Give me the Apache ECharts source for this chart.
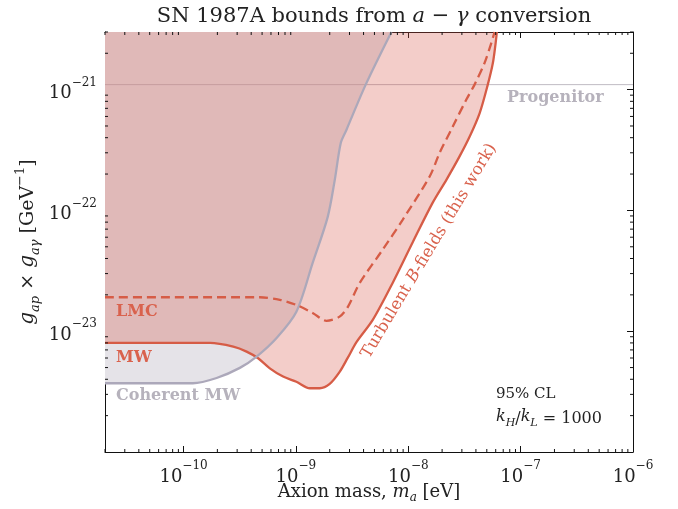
<!DOCTYPE html>
<html><head><meta charset="utf-8">
<script src="https://cdn.jsdelivr.net/npm/echarts@6/dist/echarts.min.js"></script>
<style>html,body{margin:0;padding:0;background:#fff}#c{width:678px;height:509px}</style>
</head><body><div id="c"></div>
<script>
// ---- data ----
const xTicks = [1e-10, 1e-9, 1e-8, 1e-7, 1e-6];
const yTicks = [1e-24, 1e-23, 1e-22, 1e-21];

// Coherent MW bound (grey)
const cohMass = [2e-11, 1.21e-10, 1.97e-10, 3.17e-10, 4.47e-10, 6.73e-10, 1.01e-9, 1.41e-9, 1.92e-9, 2.22e-9, 2.51e-9, 2.82e-9, 4.18e-9, 7.08e-9];
const cohG    = [3.71e-24, 3.71e-24, 4.10e-24, 4.97e-24, 6.17e-24, 8.79e-24, 1.45e-23, 3.68e-23, 8.85e-23, 1.80e-22, 3.63e-22, 4.66e-22, 1.10e-21, 3.0e-21];

// MW turbulent B-fields (solid red)
const mwMass = [2e-11, 1.72e-10, 2.77e-10, 3.64e-10, 4.61e-10, 5.86e-10, 7.69e-10, 1.01e-9, 1.33e-9, 1.63e-9, 2.00e-9, 2.45e-9, 2.89e-9, 3.47e-9, 4.83e-9, 7.26e-9, 1.09e-8, 1.65e-8, 2.19e-8, 2.86e-8, 3.52e-8, 4.32e-8, 5.10e-8, 5.66e-8, 5.99e-8, 6.14e-8];
const mwG    = [8.0e-24, 8.0e-24, 7.45e-24, 6.78e-24, 5.97e-24, 4.93e-24, 4.21e-24, 3.82e-24, 3.37e-24, 3.37e-24, 3.66e-24, 4.60e-24, 6.01e-24, 8.15e-24, 1.24e-23, 2.51e-23, 5.40e-23, 1.16e-22, 1.80e-22, 2.80e-22, 4.09e-22, 6.40e-22, 1.10e-21, 1.66e-21, 2.43e-21, 3.0e-21];

// LMC turbulent B-fields (dashed red)
const lmcMass = [2e-11, 4.77e-10, 7.19e-10, 1.01e-9, 1.42e-9, 1.87e-9, 2.45e-9, 2.91e-9, 3.70e-9, 5.91e-9, 8.91e-9, 1.55e-8, 1.90e-8, 2.49e-8, 3.28e-8, 3.89e-8, 4.77e-8, 5.48e-8, 5.86e-8];
const lmcG    = [1.91e-23, 1.91e-23, 1.82e-23, 1.65e-23, 1.41e-23, 1.22e-23, 1.32e-23, 1.60e-23, 2.51e-23, 4.72e-23, 8.36e-23, 1.91e-22, 2.99e-22, 4.95e-22, 8.24e-22, 1.10e-21, 1.66e-21, 2.43e-21, 3.0e-21];

// Progenitor bound
const progMass = [2e-11, 1e-6];
const progG    = [1.1e-21, 1.1e-21];

const xMin = 2e-11, xMax = 1e-6, yMin = 1e-24, yMax = 3e-21;

// ---- styling ----
const SERIF = "'DejaVu Serif', serif";
const RED = '#d65c46';
const REDTXT = '#d9624d';
const GREY = '#aca8ba';
const GREYTXT = '#b6b2bc';

const zip = (a, b) => a.map((v, i) => [v, b[i]]);
const isTick = (arr, v) => arr.some(t => Math.abs(Math.log10(t) - Math.log10(v)) < 1e-6);
const expLabel = arr => v => isTick(arr, v) ? '{b|10}{s|−' + Math.round(-Math.log10(v)) + '}' : '';
const tickRich = {
  b: {fontSize: 18, fontFamily: SERIF, color: '#222', lineHeight: 26, verticalAlign: 'bottom'},
  s: {fontSize: 12, fontFamily: SERIF, color: '#222', lineHeight: 12, verticalAlign: 'top'}
};

// minor tick positions (decoration of the log axes)
const xMinor = [], yMinor = [];
for (let e = -11; e <= -7; e++) for (let k = 2; k <= 9; k++) { const v = k * Math.pow(10, e); if (v >= xMin && v <= xMax) xMinor.push([v, yMin]); }
for (let e = -24; e <= -21; e++) for (let k = 2; k <= 9; k++) { const v = k * Math.pow(10, e); if (v >= yMin && v <= yMax) yMinor.push([xMin, v]); }

function axisBase() {
  return {
    type: 'log', logBase: 10, gridIndex: 0, nameMoveOverlap: false,
    axisLine: {show: true, onZero: false, lineStyle: {color: '#111', width: 1}},
    axisTick: {show: true, inside: true, length: 6, lineStyle: {color: '#111', width: 1}},
    splitLine: {show: false},
    minorTick: {show: false}
  };
}

const chart = echarts.init(document.getElementById('c'), null, {renderer: 'canvas'});
chart.setOption({
  animation: false,
  backgroundColor: '#fff',
  title: {
    text: 'SN 1987A bounds from {i|a} − {i|γ} conversion',
    left: 369, top: 1, textAlign: 'center',
    textStyle: {fontFamily: SERIF, fontSize: 21, fontWeight: 'normal', color: '#222',
      rich: {i: {fontFamily: SERIF, fontSize: 21, fontStyle: 'italic', color: '#222'}}}
  },
  grid: {left: 105, right: 45, top: 32, bottom: 57, containLabel: false, outerBoundsMode: 'none'},
  xAxis: [
    Object.assign(axisBase(), {
      min: xMin, max: xMax, position: 'bottom',
      axisLabel: {show: true, interval: 0, margin: 8, formatter: expLabel(xTicks), rich: tickRich},
      name: 'Axion mass, {i|m}{sub|a} [eV]', nameLocation: 'middle', nameGap: 28,
      nameTextStyle: {fontFamily: SERIF, fontSize: 18, color: '#222', lineHeight: 24, verticalAlign: 'top',
        rich: {i: {fontFamily: SERIF, fontSize: 18, fontStyle: 'italic', color: '#222', lineHeight: 24, verticalAlign: 'middle'},
               sub: {fontFamily: SERIF, fontSize: 12, fontStyle: 'italic', color: '#222', lineHeight: 12, verticalAlign: 'bottom'}}}
    }),
    Object.assign(axisBase(), {min: xMin, max: xMax, position: 'top', axisLabel: {show: false}})
  ],
  yAxis: [
    Object.assign(axisBase(), {
      min: yMin, max: yMax, position: 'left',
      axisLabel: {show: true, interval: 0, margin: 8, formatter: expLabel(yTicks), rich: tickRich},
      name: '{i|g}{sub|ap} × {i|g}{sub|aγ} [GeV{sup|−1}]', nameLocation: 'middle', nameGap: 63, nameRotate: 90,
      nameTextStyle: {fontFamily: SERIF, fontSize: 19, color: '#222', lineHeight: 28,
        rich: {i: {fontFamily: SERIF, fontSize: 20, fontStyle: 'italic', color: '#222', lineHeight: 28, verticalAlign: 'middle'},
               sub: {fontFamily: SERIF, fontSize: 13, fontStyle: 'italic', color: '#222', lineHeight: 14, verticalAlign: 'bottom'},
               sup: {fontFamily: SERIF, fontSize: 13, color: '#222', lineHeight: 12, verticalAlign: 'top'}}}
    }),
    Object.assign(axisBase(), {min: yMin, max: yMax, position: 'right', axisLabel: {show: false}})
  ],
  series: [
    {type: 'line', name: 'Coherent MW area', data: zip(cohMass, cohG), showSymbol: false, smooth: 0.3,
     lineStyle: {width: 0, opacity: 0}, areaStyle: {origin: yMax, color: '#e5e3e8', opacity: 1}, z: 1, silent: true},
    {type: 'line', name: 'MW', data: zip(mwMass, mwG), showSymbol: false, smooth: 0.3,
     lineStyle: {width: 2.3, color: RED}, areaStyle: {origin: yMax, color: 'rgba(212,84,68,0.29)', opacity: 1}, z: 3, silent: true},
    {type: 'line', name: 'Coherent MW', data: zip(cohMass, cohG), showSymbol: false, smooth: 0.3,
     lineStyle: {width: 2.3, color: GREY}, z: 4, silent: true},
    {type: 'line', name: 'LMC', data: zip(lmcMass, lmcG), showSymbol: false, smooth: 0.3,
     lineStyle: {width: 2.3, color: RED, type: [9, 5]}, z: 5, silent: true},
    {type: 'line', name: 'Progenitor', data: zip(progMass, progG), showSymbol: false,
     lineStyle: {width: 1, color: '#bfbbc3'}, z: 2, silent: true},
    {type: 'custom', name: 'xminor', data: xMinor, silent: true, z: 6,
     renderItem: (params, api) => {
       const p = api.coord([api.value(0), api.value(1)]);
       const cs = params.coordSys;
       const b = cs.y + cs.height, t = cs.y;
       return {type: 'group', children: [
         {type: 'line', shape: {x1: p[0], y1: b, x2: p[0], y2: b - 3}, style: {stroke: '#111', lineWidth: 1}},
         {type: 'line', shape: {x1: p[0], y1: t, x2: p[0], y2: t + 3}, style: {stroke: '#111', lineWidth: 1}}
       ]};
     }},
    {type: 'custom', name: 'yminor', data: yMinor, silent: true, z: 6,
     renderItem: (params, api) => {
       const p = api.coord([api.value(0), api.value(1)]);
       const cs = params.coordSys;
       const l = cs.x, r = cs.x + cs.width;
       return {type: 'group', children: [
         {type: 'line', shape: {x1: l, y1: p[1], x2: l + 3, y2: p[1]}, style: {stroke: '#111', lineWidth: 1}},
         {type: 'line', shape: {x1: r, y1: p[1], x2: r - 3, y2: p[1]}, style: {stroke: '#111', lineWidth: 1}}
       ]};
     }}
  ],
  graphic: [
    {type: 'text', x: 507, y: 98, z: 10, style: {text: 'Progenitor', font: "bold 16px 'DejaVu Serif'", fill: GREYTXT, verticalAlign: 'middle'}},
    {type: 'text', x: 116, y: 312, z: 10, style: {text: 'LMC', font: "bold 16px 'DejaVu Serif'", fill: REDTXT, verticalAlign: 'middle'}},
    {type: 'text', x: 116, y: 358, z: 10, style: {text: 'MW', font: "bold 16px 'DejaVu Serif'", fill: REDTXT, verticalAlign: 'middle'}},
    {type: 'text', x: 116, y: 396, z: 10, style: {text: 'Coherent MW', font: "bold 16px 'DejaVu Serif'", fill: GREYTXT, verticalAlign: 'middle'}},
    {type: 'text', x: 429, y: 251, rotation: 59 * Math.PI / 180, z: 10,
     style: {text: 'Turbulent {b|B}-fields (this work)', font: "16.5px 'DejaVu Serif'", fill: REDTXT, align: 'center', verticalAlign: 'middle',
       rich: {b: {font: "italic 16.5px 'DejaVu Serif'", fill: REDTXT}}}},
    {type: 'text', x: 496, y: 394, z: 10, style: {text: '95% CL', font: "15px 'DejaVu Serif'", fill: '#222', verticalAlign: 'middle'}},
    {type: 'text', x: 496, y: 419, z: 10,
     style: {text: '{i|k}{s|H}/{i|k}{s|L} = 1000', font: "16px 'DejaVu Serif'", fill: '#222', verticalAlign: 'middle',
       rich: {i: {font: "italic 16px 'DejaVu Serif'", fill: '#222', lineHeight: 20, verticalAlign: 'top'},
              s: {font: "italic 11px 'DejaVu Serif'", fill: '#222', lineHeight: 12, verticalAlign: 'bottom'}}}}
  ]
});
</script></body></html>
